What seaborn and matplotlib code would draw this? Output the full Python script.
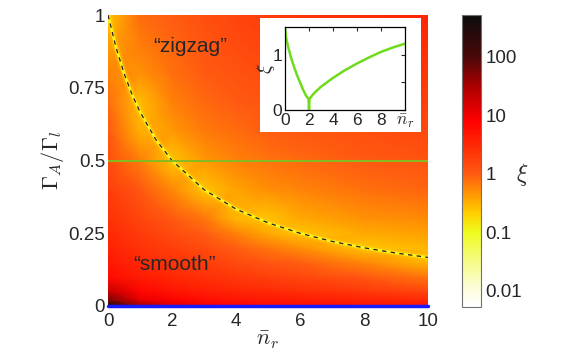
import numpy as np
import matplotlib
matplotlib.use("Agg")
import matplotlib.pyplot as plt
import matplotlib.colors as mcolors
from matplotlib.patches import Rectangle
import seaborn as sns

# grid of the xi map: n_r columns, Gamma_A/Gamma_l rows
nr_cols = [0, 1, 2, 3, 4, 5, 6, 8, 10]
gamma_rows = [0, 0.02, 0.05, 0.1, 0.15, 0.2, 0.25, 0.3, 0.4, 0.5, 0.6, 0.7, 0.8, 0.9, 1.0]

# xi, one list per n_r column (bottom -> top)
xi_n0 = [500, 60, 20, 6, 4.5, 3.6, 3.0, 2.5, 1.9, 1.45, 1.1, 0.8, 0.58, 0.4, 0.25]
xi_n1 = [40, 12, 7, 4.2, 3.1, 2.4, 2.0, 1.65, 1.1, 0.62, 0.32, 0.27, 0.48, 0.64, 0.78]
xi_n2 = [15, 8, 5, 3.2, 2.4, 1.85, 1.45, 1.1, 0.55, 0.25, 0.45, 0.6, 0.74, 0.86, 0.98]
xi_n3 = [10, 6, 4, 2.6, 1.9, 1.4, 1.0, 0.7, 0.25, 0.45, 0.66, 0.83, 1.0, 1.15, 1.3]
xi_n4 = [7, 5, 3.3, 2.1, 1.4, 0.95, 0.6, 0.3, 0.38, 0.6, 0.8, 1.0, 1.2, 1.4, 1.6]
xi_n5 = [6, 4.5, 3.0, 1.8, 1.15, 0.7, 0.35, 0.25, 0.5, 0.72, 0.95, 1.2, 1.45, 1.7, 1.95]
xi_n6 = [5.5, 4.2, 2.7, 1.55, 0.95, 0.5, 0.25, 0.35, 0.58, 0.84, 1.1, 1.35, 1.65, 1.95, 2.3]
xi_n8 = [5, 3.6, 2.1, 1.1, 0.55, 0.25, 0.35, 0.48, 0.74, 1.05, 1.3, 1.6, 1.95, 2.35, 2.8]
xi_n10 = [4.5, 3.0, 1.6, 0.7, 0.3, 0.3, 0.4, 0.52, 0.86, 1.2, 1.5, 1.85, 2.3, 2.8, 3.4]

# boundary between "smooth" and "zigzag" (dashed line)
curve_nr = [0, 0.25, 0.5, 0.75, 1, 1.5, 2, 3, 4, 5, 6, 7, 8, 9, 10]
curve_gamma = [1.0, 0.889, 0.8, 0.727, 0.667, 0.571, 0.5, 0.4, 0.333, 0.286, 0.25, 0.222, 0.2, 0.182, 0.167]

# inset: xi along Gamma_A/Gamma_l = 0.5
inset_nr = [0, 0.1, 0.25, 0.5, 0.75, 1, 1.25, 1.5, 1.75, 1.96, 2.0, 2.04, 2.25, 2.5, 3, 4, 5, 6, 7, 8, 9, 10]
inset_xi = [1.48, 1.3, 1.15, 0.95, 0.78, 0.63, 0.5, 0.37, 0.26, 0.2, 0.0, 0.2, 0.26, 0.32, 0.42, 0.58, 0.72, 0.84, 0.95, 1.05, 1.13, 1.2]
cut_gamma = 0.5

cbar_ticks = [0.01, 0.1, 1, 10, 100]
cbar_labels = ["0.01", "0.1", "1", "10", "100"]

sns.set_style("white")
plt.rcParams["font.family"] = ["Liberation Sans", "DejaVu Sans"]
plt.rcParams["mathtext.fontset"] = "cm"

vmin, vmax = 0.0053, 520
norm = mcolors.LogNorm(vmin=vmin, vmax=vmax)
anchor_vals = [0.0053, 0.01, 0.03, 0.1, 0.2, 0.4, 1, 3, 8, 30, 100, 520]
anchor_cols = ["#ffffff", "#fdfde0", "#f6fb8a", "#eefb1e", "#ffd200", "#ffa000",
               "#ff5a12", "#ff2a05", "#ff0000", "#b00000", "#4a0808", "#0c0c0c"]
pos = [float(norm(v)) for v in anchor_vals]
pos[0], pos[-1] = 0.0, 1.0
cmap = mcolors.LinearSegmentedColormap.from_list("xi", list(zip(pos, anchor_cols)))

xi = np.column_stack([xi_n0, xi_n1, xi_n2, xi_n3, xi_n4, xi_n5, xi_n6, xi_n8, xi_n10])

W, H = 581, 356
fig = plt.figure(figsize=(W / 100, H / 100), dpi=100)

ax = fig.add_axes([108 / W, 50 / H, 320 / W, 291 / H])
ax.pcolormesh(nr_cols, gamma_rows, xi, shading="gouraud", cmap=cmap, norm=norm, rasterized=True)
ax.plot(curve_nr, curve_gamma, color="#ffd000", lw=5, alpha=0.35, solid_capstyle="butt")
ax.plot(curve_nr, curve_gamma, color="#fff020", lw=2.0, solid_capstyle="butt")
ax.plot(curve_nr, curve_gamma, color="#202020", lw=0.9, dashes=(3.5, 3.5))
ax.axhline(cut_gamma, color="#8ab820", lw=1.5)
ax.axhline(0, color="#1a1aff", lw=2.5, clip_on=False)
ax.set_xlim(0, 10)
ax.set_ylim(0, 1)
ax.set_xticks([0, 2, 4, 6, 8, 10])
ax.set_yticks([0, 0.25, 0.5, 0.75, 1])
ax.set_yticklabels(["0", "0.25", "0.5", "0.75", "1"])
ax.tick_params(length=0, labelsize=13.5)
ax.tick_params(axis="x", pad=5)
ax.tick_params(axis="y", pad=2)
for s in ax.spines.values():
    s.set_visible(False)
ax.set_xlabel(r"$\bar{n}_r$", fontsize=16, labelpad=0)
ax.set_ylabel(r"$\Gamma_A/\Gamma_l$", fontsize=16, labelpad=2)
ax.text(2.56, 0.893, "\u201czigzag\u201d", fontsize=15, ha="center", va="center")
ax.text(2.09, 0.141, "\u201csmooth\u201d", fontsize=15, ha="center", va="center")

# colorbar
cax = fig.add_axes([462 / W, 49 / H, 19 / W, 292 / H])
sm = plt.cm.ScalarMappable(norm=norm, cmap=cmap)
sm.set_array([])
cb = fig.colorbar(sm, cax=cax)
cb.set_ticks(cbar_ticks)
cb.set_ticklabels(cbar_labels)
cax.tick_params(which="major", direction="in", length=4, labelsize=13.5, pad=3)
cax.tick_params(which="minor", direction="in", length=2)
cb.outline.set_edgecolor("#707070")
cb.outline.set_linewidth(0.8)
fig.text(522 / W, 1 - 175 / H, r"$\xi$", fontsize=17, ha="center", va="center")

# inset
fig.add_artist(Rectangle((260 / W, 1 - 132 / H), 161 / W, 114 / H, transform=fig.transFigure,
                         facecolor="white", edgecolor="none", zorder=2))
axin = fig.add_axes([285 / W, 1 - 110 / H, 120 / W, 83 / H])
axin.set_zorder(3)
sns.lineplot(x=inset_nr, y=inset_xi, ax=axin, color="#6edc1c", lw=1.8, sort=False)
axin.set_xlim(0, 10)
axin.set_ylim(0, 1.5)
axin.set_xticks([0, 2, 4, 6, 8, 10])
axin.set_xticklabels(["0", "2", "4", "6", "8", r"$\bar{n}_r$"])
axin.set_yticks([0, 0.5, 1])
axin.set_yticklabels(["0", "", "1"])
axin.tick_params(direction="in", top=True, right=True, length=3, labelsize=12.5, pad=2)
for s in axin.spines.values():
    s.set_color("black")
    s.set_linewidth(0.9)
axin.set_ylabel(r"$\xi$", fontsize=14, labelpad=-3)

fig.savefig("out.png", dpi=100)
